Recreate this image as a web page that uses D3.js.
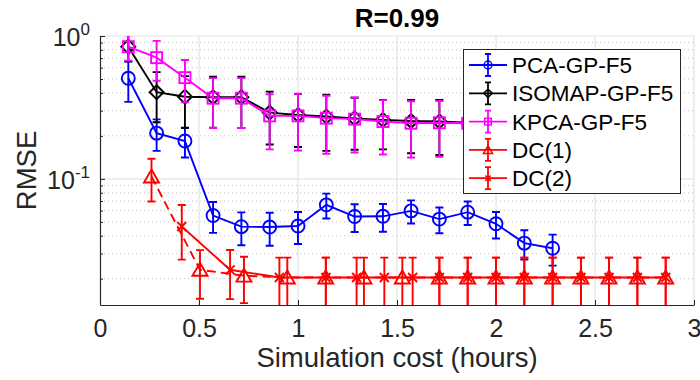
<!DOCTYPE html>
<html>
<head>
<meta charset="utf-8">
<script src="https://cdn.jsdelivr.net/npm/d3@7"></script>
<style>
  body { margin: 0; background: #fff; }
  svg { display: block; font-family: "Liberation Sans", Arial, sans-serif; }
</style>
</head>
<body>
<svg id="chart" width="700" height="380"></svg>
<script>
// Simulation cost (hours) for the GP surrogates
const costGP = [0.143, 0.286, 0.429, 0.571, 0.714, 0.857, 1.0, 1.143, 1.286, 1.429, 1.571, 1.714, 1.857, 2.0, 2.143, 2.286];
const pcaRmse = [0.506, 0.209, 0.184, 0.0554, 0.0463, 0.046, 0.0468, 0.0658, 0.0545, 0.0547, 0.0597, 0.0523, 0.0585, 0.0485, 0.0355, 0.0327];
const pcaErr  = [0.16, 0.052, 0.043, 0.0135, 0.012, 0.012, 0.0118, 0.013, 0.012, 0.012, 0.011, 0.0107, 0.011, 0.0102, 0.0082, 0.008];
const isoRmse = [0.842, 0.404, 0.376, 0.373, 0.373, 0.291, 0.28, 0.273, 0.265, 0.259, 0.254, 0.252, 0.247, 0.244, 0.241, 0.238];
const isoErr  = [0.18, 0.155, 0.148, 0.145, 0.146, 0.117, 0.113, 0.116, 0.105, 0.098, 0.103, 0.105, 0.1, 0.1, 0.1, 0.1];
const kpcaRmse = [0.842, 0.705, 0.511, 0.367, 0.367, 0.276, 0.276, 0.266, 0.262, 0.252, 0.245, 0.247, 0.245, 0.242, 0.24, 0.238];
const kpcaErr  = [0.17, 0.219, 0.168, 0.14, 0.14, 0.115, 0.118, 0.116, 0.109, 0.104, 0.104, 0.104, 0.1, 0.1, 0.1, 0.1];

// Direct-coupling runs
const costDC1 = [0.26, 0.505, 0.727, 0.946, 1.14, 1.333, 1.527, 1.714, 1.857, 2.0, 2.143, 2.286, 2.429, 2.571, 2.714, 2.857];
const dc1Rmse = [0.1038, 0.0231, 0.021, 0.0204, 0.0204, 0.0204, 0.0204, 0.0204, 0.0204, 0.0204, 0.0204, 0.0204, 0.0204, 0.0204, 0.0204, 0.0204];
const dc1Err  = [0.0344, 0.0086, 0.0075, 0.0077, 0.0077, 0.0077, 0.0077, 0.0077, 0.0077, 0.0077, 0.0077, 0.0077, 0.0077, 0.0077, 0.0077, 0.0077];
const costDC2 = [0.413, 0.657, 0.906, 1.141, 1.296, 1.436, 1.579, 1.714, 1.857, 2.0, 2.143, 2.286, 2.429, 2.571, 2.714, 2.857];
const dc2Rmse = [0.0464, 0.0231, 0.0204, 0.0204, 0.0204, 0.0204, 0.0204, 0.0204, 0.0204, 0.0204, 0.0204, 0.0204, 0.0204, 0.0204, 0.0204, 0.0204];
const dc2Err  = [0.0192, 0.0087, 0.0077, 0.0077, 0.0077, 0.0077, 0.0077, 0.0077, 0.0077, 0.0077, 0.0077, 0.0077, 0.0077, 0.0077, 0.0077, 0.0077];

const xTicks = [0, 0.5, 1, 1.5, 2, 2.5, 3];
const yDecades = [0.1, 1];
const titleText = "R=0.99";
const xLabel = "Simulation cost (hours)";
const yLabel = "RMSE";

const series = [
  { name: "PCA-GP-F5",    x: costGP,  y: pcaRmse,  e: pcaErr,  color: "#0000ff", marker: "circle",   dash: null },
  { name: "ISOMAP-GP-F5", x: costGP,  y: isoRmse,  e: isoErr,  color: "#000000", marker: "diamond",  dash: null },
  { name: "KPCA-GP-F5",   x: costGP,  y: kpcaRmse, e: kpcaErr, color: "#ff00ff", marker: "square",   dash: null },
  { name: "DC(1)",        x: costDC1, y: dc1Rmse,  e: dc1Err,  color: "#ff0000", marker: "triangle", dash: "9,5" },
  { name: "DC(2)",        x: costDC2, y: dc2Rmse,  e: dc2Err,  color: "#ff0000", marker: "cross",    dash: null }
];

const svg = d3.select("#chart");
const L = 100, R = 694, T = 36, B = 305;
const axisColor = "#262626";

const x = d3.scaleLinear().domain([0, 3]).range([L, R]);
const y = d3.scaleLog().domain([0.0131, 1]).range([B, T]);

// grid
const grid = svg.append("g");
const minorVals = [];
[0.01, 0.1].forEach(d => { for (let k = 2; k <= 9; k++) minorVals.push(d * k); });
const minorIn = minorVals.filter(v => v >= 0.0131 && v < 1);
grid.selectAll("line.minor").data(minorIn).join("line")
  .attr("x1", L).attr("x2", R).attr("y1", d => y(d)).attr("y2", d => y(d))
  .attr("stroke", "#c4c4c4").attr("stroke-width", 1).attr("stroke-dasharray", "1,3");
grid.selectAll("line.majy").data(yDecades).join("line")
  .attr("x1", L).attr("x2", R).attr("y1", d => y(d)).attr("y2", d => y(d))
  .attr("stroke", "#e3e3e3").attr("stroke-width", 1.2);
grid.selectAll("line.majx").data(xTicks.slice(1)).join("line")
  .attr("x1", d => x(d)).attr("x2", d => x(d)).attr("y1", T).attr("y2", B)
  .attr("stroke", "#e3e3e3").attr("stroke-width", 1.2);

// x axis
const xAxis = svg.append("g").attr("transform", `translate(0,${B})`)
  .call(d3.axisBottom(x).tickValues(xTicks).tickFormat(d3.format("")).tickSizeInner(-5).tickSizeOuter(0).tickPadding(14));
xAxis.select(".domain").attr("stroke", axisColor).attr("stroke-width", 1.2);
xAxis.selectAll(".tick line").attr("stroke", axisColor);
xAxis.selectAll(".tick text").attr("fill", axisColor).attr("font-size", 25).attr("font-family", "Liberation Sans, Arial, sans-serif");

// y axis (ticks only, labels drawn as powers of ten)
const yAxis = svg.append("g").attr("transform", `translate(${L},0)`)
  .call(d3.axisLeft(y).tickValues(yDecades.concat(minorIn))
    .tickFormat("").tickSizeInner(-5).tickSizeOuter(0));
yAxis.select(".domain").attr("stroke", axisColor).attr("stroke-width", 1.2);
yAxis.selectAll(".tick line").attr("stroke", axisColor);
yAxis.selectAll(".tick").filter(d => !yDecades.includes(d)).select("line").attr("x2", 3);

const yLab = svg.append("g");
yDecades.forEach(d => {
  const exp = Math.round(Math.log10(d));
  const expStr = exp < 0 ? "-" + (-exp) : String(exp);
  const g = yLab.append("text").attr("text-anchor", "end").attr("fill", axisColor)
    .attr("x", L - 10).attr("y", y(d) + 10);
  g.append("tspan").attr("font-size", 25).text("10");
  g.append("tspan").attr("font-size", 17).attr("dy", -11).text(expStr);
});

// axis labels and title
svg.append("text").attr("x", (L + R) / 2).attr("y", 367).attr("text-anchor", "middle")
  .attr("font-size", 27.5).attr("fill", axisColor).text(xLabel);
svg.append("text").attr("transform", `translate(36,${(T + B) / 2}) rotate(-90)`)
  .attr("text-anchor", "middle").attr("font-size", 27.5).attr("fill", axisColor).text(yLabel);
svg.append("text").attr("x", (L + R) / 2).attr("y", 27).attr("text-anchor", "middle")
  .attr("font-size", 26).attr("font-weight", "bold").attr("fill", "#000").text(titleText);

// data
svg.append("clipPath").attr("id", "plotClip").append("rect")
  .attr("x", L).attr("y", T).attr("width", R - L).attr("height", B - T);
const plot = svg.append("g").attr("clip-path", "url(#plotClip)");

function drawMarker(g, type, cx, cy, s, color, sw) {
  if (type === "circle") {
    g.append("circle").attr("cx", cx).attr("cy", cy).attr("r", 6.5 * s)
      .attr("fill", "none").attr("stroke", color).attr("stroke-width", sw);
  } else if (type === "square") {
    g.append("rect").attr("x", cx - 5.5 * s).attr("y", cy - 5.5 * s).attr("width", 11 * s).attr("height", 11 * s)
      .attr("fill", "none").attr("stroke", color).attr("stroke-width", sw);
  } else if (type === "diamond") {
    const r = 7 * s;
    g.append("path").attr("d", `M${cx},${cy - r}L${cx + r},${cy}L${cx},${cy + r}L${cx - r},${cy}Z`)
      .attr("fill", "none").attr("stroke", color).attr("stroke-width", sw);
  } else if (type === "triangle") {
    const h = 7 * s, w = 7.5 * s;
    g.append("path").attr("d", `M${cx},${cy - h}L${cx + w},${cy + h * 0.85}L${cx - w},${cy + h * 0.85}Z`)
      .attr("fill", "none").attr("stroke", color).attr("stroke-width", sw);
  } else if (type === "cross") {
    const r = 4.5 * s;
    g.append("path").attr("d", `M${cx - r},${cy - r}L${cx + r},${cy + r}M${cx - r},${cy + r}L${cx + r},${cy - r}`)
      .attr("fill", "none").attr("stroke", color).attr("stroke-width", sw);
  }
}

const line = d3.line().x(d => x(d[0])).y(d => y(d[1]));
series.forEach(s => {
  const g = plot.append("g");
  const pts = s.x.map((v, i) => [v, s.y[i], s.e[i]]);
  g.append("path").datum(pts).attr("d", line).attr("fill", "none")
    .attr("stroke", s.color).attr("stroke-width", 1.9)
    .attr("stroke-dasharray", s.dash);
  pts.forEach(p => {
    const cx = x(p[0]);
    const y0 = y(Math.max(p[1] - p[2], 1e-4)), y1 = y(p[1] + p[2]);
    g.append("path").attr("d", `M${cx},${y0}L${cx},${y1}M${cx - 4},${y0}L${cx + 4},${y0}M${cx - 4},${y1}L${cx + 4},${y1}`)
      .attr("fill", "none").attr("stroke", s.color).attr("stroke-width", 1.9);
    drawMarker(g, s.marker, cx, y(p[1]), 1, s.color, 1.9);
  });
});

// legend
const lg = svg.append("g");
lg.append("rect").attr("x", 463.5).attr("y", 49.5).attr("width", 217).attr("height", 144)
  .attr("fill", "#fff").attr("stroke", axisColor).attr("stroke-width", 1);
series.forEach((s, i) => {
  const cy = 65 + i * 28.3;
  lg.append("line").attr("x1", 469).attr("x2", 507).attr("y1", cy).attr("y2", cy)
    .attr("stroke", s.color).attr("stroke-width", 1.8);
  lg.append("path").attr("d", `M488,${cy - 11}L488,${cy + 11}M485,${cy - 11}L491,${cy - 11}M485,${cy + 11}L491,${cy + 11}`)
    .attr("fill", "none").attr("stroke", s.color).attr("stroke-width", 1.8);
  drawMarker(lg, s.marker, 488, cy, 0.6, s.color, 1.5);
  lg.append("text").attr("x", 512).attr("y", cy + 8).attr("font-size", 22.5).attr("fill", "#000").text(s.name);
});
</script>
</body>
</html>
